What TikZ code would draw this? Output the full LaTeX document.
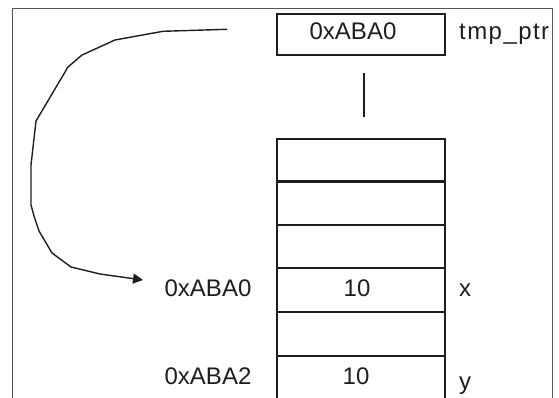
\documentclass[tikz,border=0pt]{standalone}
\usepackage{fontspec}
\setmainfont{Liberation Sans}
\usetikzlibrary{arrows.meta}
\definecolor{ink}{HTML}{1E1E1E}
\definecolor{framegray}{HTML}{555555}
\begin{document}
\begin{tikzpicture}[x=1pt,y=-1pt,
  lbl/.style={inner sep=0pt,anchor=base,text=ink,font=\fontsize{24}{28}\selectfont},
  lblw/.style={lbl,anchor=base west},
  cell/.style={draw=ink,line width=2.4pt,minimum width=168pt,inner sep=0pt,anchor=north west},
  link/.style={draw=ink,line width=1.4pt}]
\useasboundingbox (0,0) rectangle (559,398);
% frame
\draw[framegray,line width=1pt] (12.7,398) -- (12.7,8.3) -- (552,8.3) -- (552,398);
% pointer box
\node[cell,minimum height=41.3pt] (ptr) at (276,12.7) {};
\node[lbl] (ptrval) at (353,40) {0xABA0};
\node[lblw] (ptrname) at (459,40) {\addfontfeatures{LetterSpace=6}tmp\_ptr};
% vertical connector
\coordinate (v1) at (364,73);
\coordinate (v2) at (364,117);
\draw[link] (v1) -- (v2);
% stack cells
\node[cell,minimum height=42.5pt] (c1) at (276,138) {};
\node[cell,minimum height=43pt] (c2) at (276,180.5) {};
\node[cell,minimum height=43.5pt] (c3) at (276,223.5) {};
\node[cell,minimum height=44pt] (c4) at (276,267) {};
\node[cell,minimum height=44pt] (c5) at (276,311) {};
\node[cell,minimum height=44pt] (c6) at (276,355) {};
% cell contents and labels
\node[lbl] (v4) at (357,296) {10};
\node[lbl] (v6) at (356,384) {10};
\node[lblw] (nx) at (459,296) {x};
\node[lblw] (ny) at (459,389) {y};
\node[lbl] (a4) at (208,296) {0xABA0};
\node[lbl] (a6) at (208,384) {0xABA2};
% curved arrow
\coordinate (cs) at (227,29.3);
\coordinate (ce) at (143,280);
\draw[link,line join=round,-{Triangle[length=10pt,width=10pt]}]
  (cs) -- (163,31.3) -- (115,40) -- (82,55) -- (68,67) -- (36,121) -- (31,165)
  -- (31,205) -- (34,216) -- (39,231) -- (52,253) -- (71,267) -- (100,274) -- (ce);
\end{tikzpicture}
\end{document}
